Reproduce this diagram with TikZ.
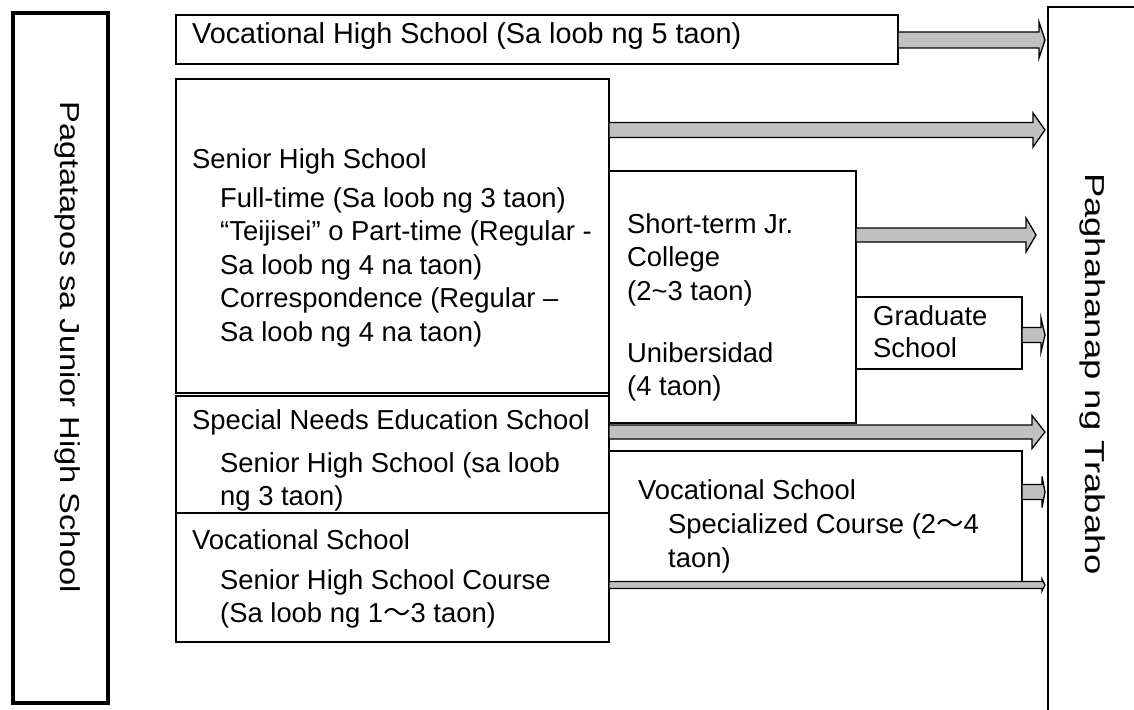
\documentclass[tikz,border=0pt]{standalone}
\usepackage{fontspec}
\setmainfont{Liberation Sans}
\newfontfamily\cjk{Noto Sans CJK JP}
\usetikzlibrary{fit,calc}
\definecolor{arrowgray}{HTML}{C0C0C0}
\newcommand{\wave}{{\cjk 〜}}
\newcommand{\blockarrow}[6]{%
  \filldraw[barrow] let \p1=(#1), \p2=(#2) in
    (\x1,\y1+#4) -- (\x2-#3-#6,\y1+#4) -- (\x2-#3-#6,\y1+#5) -- (\x2-#3,\y1)
    -- (\x2-#3-#6,\y1-#5) -- (\x2-#3-#6,\y1-#4) -- (\x1,\y1-#4) -- cycle;}
\tikzset{
  box/.style={draw, line width=1.6pt, inner sep=0pt, outer sep=0pt},
  lbl/.style={inner sep=0pt, align=left, font=\fontsize{27.4}{33.5}\selectfont},
  barrow/.style={fill=arrowgray, draw=black, line width=1.3pt},
}
\begin{document}
\begin{tikzpicture}[x=1pt,y=-1pt]
  \useasboundingbox (0,0) rectangle (1134,709);
  \node[box, line width=3.5pt, fit={(13,13) (108,703)}] (jhs) {};
  \node[box, line width=2.8pt, fit={(1048,7) (1170,730)}] (job) {};
  \node[box, fit={(176,15) (898,64)}] (vhs) {};
  \node[box, fit={(176,79) (609,393)}] (shs) {};
  \node[box, fit={(176,396) (609,513)}] (sne) {};
  \node[box, fit={(176,513) (609,642)}] (voc) {};
  \node[box, fit={(609,171) (856,423)}] (col) {};
  \node[box, fit={(856,297) (1022,369)}] (grad) {};
  \node[box, fit={(609,451) (1022,582)}] (spc) {};

  \node[lbl, rotate=-90] (jhs-t) at (68,347) {\scalebox{1.19}[1]{Pagtatapos sa Junior High School}};
  \node[lbl, rotate=-90] (job-t) at (1093,374) {\scalebox{1.33}[1]{Paghahanap ng Trabaho}};
  \node[lbl, anchor=base west, font=\fontsize{28.8}{33.5}\selectfont] (vhs-t) at (192,44) {Vocational High School (Sa loob ng 5 taon)};
  \node[lbl, anchor=north west] (shs-t) at (192,148) {Senior High School\\[5.5pt]
    \hspace*{28pt}Full-time (Sa loob ng 3 taon)\\
    \hspace*{28pt}“Teijisei” o Part-time (Regular -\\
    \hspace*{28pt}Sa loob ng 4 na taon)\\
    \hspace*{28pt}Correspondence (Regular –\\
    \hspace*{28pt}Sa loob ng 4 na taon)};
  \node[lbl, anchor=north west] (sne-t) at (192,409) {Special Needs Education School\\[9.5pt]
    \hspace*{28pt}Senior High School (sa loob\\
    \hspace*{28pt}ng 3 taon)};
  \node[lbl, anchor=north west] (voc-t) at (192,529) {Vocational School\\[6.5pt]
    \hspace*{28pt}Senior High School Course\\
    \hspace*{28pt}(Sa loob ng 1\wave3 taon)};
  \node[lbl, anchor=north west] (col-t) at (627,213) {Short-term Jr.\\
    College\\
    (2\textasciitilde3 taon)\\[28.5pt]
    Unibersidad\\
    (4 taon)};
  \node[lbl, anchor=north west] (grad-t) at (873,305) {Graduate\\[-1.5pt]School};
  \node[lbl, anchor=north west] (spc-t) at (638,479) {Vocational School\\[0.5pt]
    \hspace*{30pt}Specialized Course (2\wave4\\[0.5pt]
    \hspace*{30pt}taon)};

  \blockarrow{vhs.east |- 0,40}{job.west}{3pt}{8pt}{18pt}{6pt}
  \blockarrow{shs.east |- 0,130}{job.west}{3pt}{7.5pt}{17pt}{12pt}
  \blockarrow{col.east |- 0,235}{job.west}{12pt}{7pt}{17pt}{10pt}
  \blockarrow{grad.east |- 0,335}{job.west}{3pt}{7.5pt}{17pt}{4pt}
  \blockarrow{sne.east |- 0,432}{job.west}{3pt}{7pt}{16.5pt}{13pt}
  \blockarrow{spc.east |- 0,492}{job.west}{3pt}{7.5pt}{15.5pt}{3pt}
  \blockarrow{spc.west |- 0,585}{job.west}{3pt}{3.5pt}{6pt}{3pt}
\end{tikzpicture}
\end{document}
